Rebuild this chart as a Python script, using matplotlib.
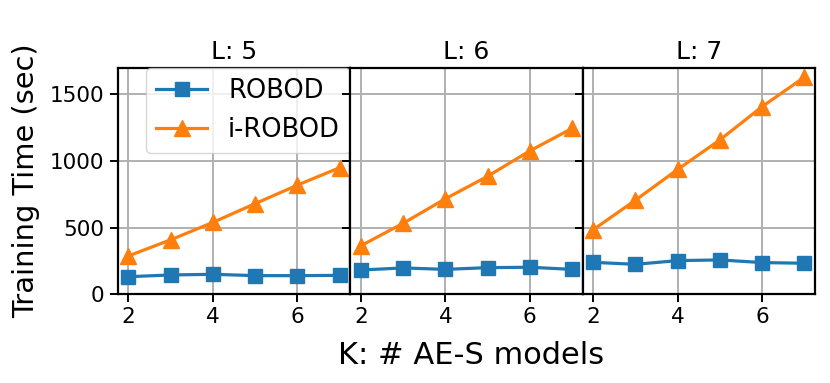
import numpy as np
import matplotlib
matplotlib.use("Agg")
import matplotlib.pyplot as plt

K = [2, 3, 4, 5, 6, 7]
L_VALUES = [5, 6, 7]

robod = {
    5: [131, 144, 149, 139, 139, 141],
    6: [181, 197, 186, 199, 202, 186],
    7: [239, 224, 252, 257, 237, 232],
}
i_robod = {
    5: [287, 408, 539, 680, 819, 950],
    6: [363, 532, 716, 885, 1076, 1245],
    7: [484, 706, 937, 1159, 1409, 1630],
}

fig, axes = plt.subplots(1, 3, figsize=(8.3, 3.83), dpi=100, sharey=True)
fig.subplots_adjust(left=0.142, right=0.982, top=0.823, bottom=0.232, wspace=0)

for ax, L in zip(axes, L_VALUES):
    ax.plot(K, robod[L], marker='s', color='tab:blue', markersize=10, linewidth=2.3, label='ROBOD')
    ax.plot(K, i_robod[L], marker='^', color='tab:orange', markersize=12, linewidth=2.3, label='i-ROBOD')
    ax.set_title(f'L: {L}', fontsize=18)
    ax.grid(True, color='#b0b0b0', linewidth=1.4)
    ax.set_xticks([2, 4, 6])
    ax.tick_params(labelsize=15.5, width=1.4, length=6)
    for s in ax.spines.values():
        s.set_linewidth(1.6)

axes[0].set_ylim(0, 1700)
axes[0].set_yticks([0, 500, 1000, 1500])
axes[0].set_ylabel('Training Time (sec)', fontsize=20.8, labelpad=7)
axes[0].legend(loc='upper center', fontsize=18.5, bbox_to_anchor=(0.56, 1.01), borderaxespad=0.1)
fig.text(0.568, 0.05, 'K: # AE-S models', ha='center', fontsize=22)

fig.savefig('out.png')
